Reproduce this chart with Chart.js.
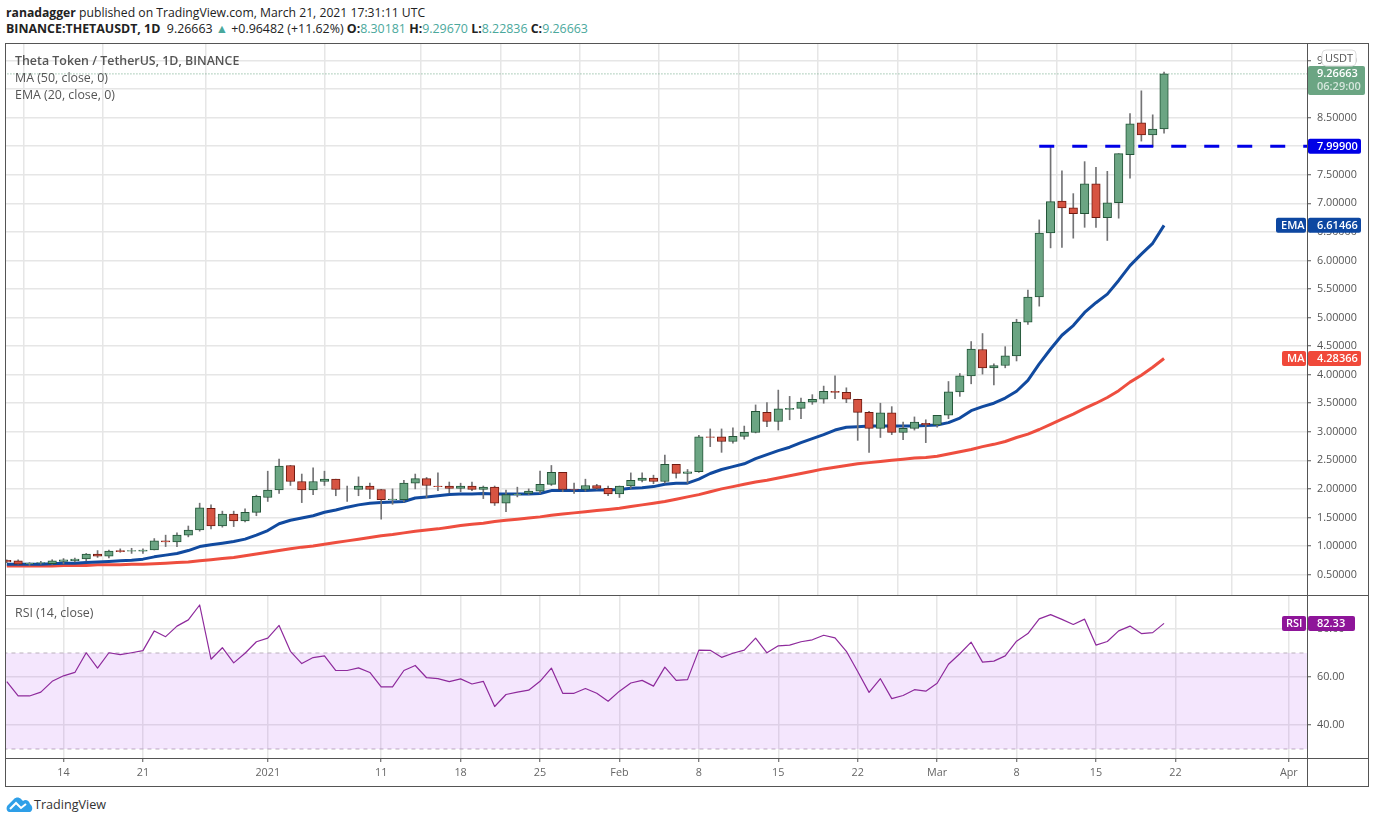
<!DOCTYPE html>
<html>
<head>
<meta charset="utf-8">
<title>THETAUSDT</title>
<script src="https://cdn.jsdelivr.net/npm/chart.js@4/dist/chart.umd.min.js"></script>
<style>
  html, body { margin: 0; padding: 0; background: #fff; width: 1376px; height: 823px; overflow: hidden; }
  body { font-family: "Open Sans", sans-serif; color: #333; position: relative; }
  .abs { position: absolute; white-space: nowrap; }
  .frame { left: 5px; top: 43px; width: 1362px; height: 742px; border: 1px solid #555; }
  .sep { background: #555; }
  canvas { position: absolute; }
  .head { left: 6px; line-height: 16px; color: #222; }
  .pane { left: 15px; font-size: 12.4px; line-height: 16px; color: #555; }
  .teal { color: #4aa89c; }
</style>
</head>
<body>
<div class="abs frame"></div>
<div class="abs sep" style="left:1307px;top:44px;width:1px;height:742px"></div>
<div class="abs sep" style="left:6px;top:595px;width:1362px;height:1px"></div>
<div class="abs sep" style="left:6px;top:758px;width:1362px;height:1px"></div>

<canvas id="price" width="1362" height="551" style="left:6px;top:44px"></canvas>
<canvas id="rsi" width="1362" height="190" style="left:6px;top:596px"></canvas>

<div class="abs head" style="top:5px;font-size:12.2px"><b>ranadagger</b> published on TradingView.com, March 21, 2021 17:31:11 UTC</div>
<div class="abs head" style="top:21px;font-size:12.4px"><b>BINANCE:THETAUSDT, 1D</b>&nbsp; 9.26663 <span class="teal">▲</span> +0.96482 (+11.62%) <b>O:</b><span class="teal">8.30181</span> <b>H:</b><span class="teal">9.29670</span> <b>L:</b><span class="teal">8.22836</span> <b>C:</b><span class="teal">9.26663</span></div>
<div class="abs pane" style="top:53px;font-weight:600">Theta Token / TetherUS, 1D, BINANCE</div>
<div class="abs pane" style="top:70px">MA (50, close, 0)</div>
<div class="abs pane" style="top:87px">EMA (20, close, 0)</div>
<div class="abs pane" style="top:605px">RSI (14, close)</div>

<svg class="abs" style="left:6px;top:796px" width="27" height="17" viewBox="0 0 27 17">
  <path d="M3 16 C0 15 0 11 2 9 L8 3 C10 1 13 1 15 3 L17 5 C19 3 23 4 24 8 C27 10 27 15 24 16 Z" fill="#2e9fe8"/>
  <path d="M4 13 L10 7 L15 12 L20 8" fill="none" stroke="#fff" stroke-width="2"/>
</svg>
<div class="abs" style="left:34px;top:796px;font-size:12.6px;line-height:18px;color:#333">TradingView</div>

<script>
// first candle is 5 days before Dec 14, one row = 10 days
const firstDay = -5;

const opens = [
    0.75, 0.74, 0.69, 0.70, 0.69, 0.73, 0.745, 0.775, 0.86, 0.82,
    0.92, 0.91, 0.91, 0.93, 1.09, 1.07, 1.19, 1.28, 1.66, 1.35,
    1.56, 1.44, 1.59, 1.85, 1.98, 2.41, 2.13, 1.98, 2.13, 2.17,
    1.99, 1.99, 2.05, 1.99, 1.81, 1.81, 2.10, 2.18, 2.05, 2.05,
    2.01, 2.05, 1.99, 2.03, 1.75, 1.90, 1.92, 1.96, 2.08, 2.29,
    1.99, 1.99, 2.06, 2.01, 1.91, 2.05, 2.15, 2.19, 2.13, 2.43,
    2.27, 2.30, 2.91, 2.91, 2.83, 2.92, 2.99, 3.34, 3.18, 3.39,
    3.41, 3.52, 3.57, 3.71, 3.69, 3.57, 3.34, 3.06, 3.33, 2.99,
    3.06, 3.15, 3.12, 3.29, 3.70, 3.98, 4.44, 4.12, 4.16, 4.33,
    4.92, 5.36, 6.48, 7.04, 6.92, 6.82, 7.34, 6.75, 7.01, 7.85,
    8.41, 8.20, 8.30181
];
const highs = [
    0.76, 0.76, 0.71, 0.73, 0.76, 0.78, 0.79, 0.87, 0.92, 0.93,
    0.95, 0.96, 0.95, 1.13, 1.19, 1.23, 1.35, 1.75, 1.72, 1.61,
    1.61, 1.65, 1.89, 2.31, 2.52, 2.41, 2.26, 2.37, 2.31, 2.17,
    2.05, 2.21, 2.10, 1.99, 2.00, 2.15, 2.26, 2.20, 2.28, 2.12,
    2.10, 2.12, 2.05, 2.05, 1.98, 2.03, 2.00, 2.31, 2.41, 2.29,
    2.10, 2.17, 2.08, 2.05, 2.05, 2.28, 2.28, 2.24, 2.59, 2.43,
    2.34, 2.94, 3.05, 3.05, 3.07, 3.10, 3.47, 3.51, 3.73, 3.62,
    3.59, 3.65, 3.80, 3.98, 3.77, 3.57, 3.36, 3.50, 3.44, 3.17,
    3.26, 3.21, 3.29, 3.88, 4.02, 4.58, 4.72, 4.19, 4.49, 4.97,
    5.48, 6.71, 7.99, 7.57, 7.17, 7.73, 7.63, 7.56, 7.87, 8.57,
    8.97, 8.55, 9.2967
];
const lows = [
    0.71, 0.68, 0.66, 0.68, 0.68, 0.69, 0.72, 0.74, 0.80, 0.79,
    0.89, 0.87, 0.87, 0.93, 0.99, 0.99, 1.16, 1.26, 1.30, 1.33,
    1.34, 1.42, 1.53, 1.78, 1.92, 2.06, 1.76, 1.90, 2.06, 1.88,
    1.78, 1.88, 1.83, 1.47, 1.73, 1.77, 2.00, 1.85, 1.97, 1.93,
    1.95, 1.97, 1.83, 1.71, 1.60, 1.86, 1.90, 1.92, 2.06, 1.95,
    1.92, 1.96, 1.99, 1.88, 1.85, 2.01, 2.12, 2.09, 2.10, 2.19,
    2.10, 2.29, 2.74, 2.64, 2.80, 2.87, 2.98, 3.09, 3.03, 3.21,
    3.23, 3.48, 3.50, 3.58, 3.51, 2.85, 2.64, 2.90, 2.95, 2.86,
    3.03, 2.81, 3.08, 3.23, 3.62, 3.84, 4.01, 3.82, 4.12, 4.24,
    4.88, 5.20, 6.22, 6.23, 6.39, 6.58, 6.58, 6.35, 6.74, 7.44,
    8.09, 7.99, 8.22836
];
const closes = [
    0.72, 0.68, 0.70, 0.71, 0.74, 0.76, 0.77, 0.86, 0.82, 0.91,
    0.90, 0.92, 0.93, 1.09, 1.07, 1.19, 1.28, 1.67, 1.35, 1.56,
    1.44, 1.59, 1.87, 1.98, 2.40, 2.13, 1.98, 2.13, 2.17, 1.99,
    1.99, 2.05, 1.99, 1.81, 1.82, 2.10, 2.18, 2.06, 2.04, 2.01,
    2.05, 1.99, 2.03, 1.75, 1.90, 1.91, 1.96, 2.08, 2.29, 1.99,
    1.98, 2.06, 2.01, 1.91, 2.05, 2.15, 2.19, 2.13, 2.43, 2.27,
    2.30, 2.91, 2.90, 2.83, 2.92, 2.99, 3.36, 3.18, 3.40, 3.41,
    3.52, 3.57, 3.71, 3.69, 3.57, 3.34, 3.06, 3.33, 2.99, 3.06,
    3.17, 3.12, 3.29, 3.70, 3.98, 4.45, 4.12, 4.16, 4.33, 4.92,
    5.36, 6.48, 7.03, 6.92, 6.82, 7.34, 6.75, 7.01, 7.87, 8.39,
    8.20, 8.30, 9.26663
];
const ema20 = [
    0.68, 0.68, 0.68, 0.68, 0.69, 0.70, 0.70, 0.71, 0.72, 0.73,
    0.74, 0.75, 0.77, 0.81, 0.84, 0.87, 0.92, 0.99, 1.02, 1.05,
    1.08, 1.12, 1.19, 1.27, 1.39, 1.45, 1.49, 1.53, 1.59, 1.63,
    1.68, 1.72, 1.75, 1.76, 1.77, 1.78, 1.84, 1.86, 1.88, 1.90,
    1.91, 1.91, 1.92, 1.91, 1.91, 1.91, 1.91, 1.92, 1.97, 1.97,
    1.97, 1.97, 1.98, 1.98, 1.99, 2.01, 2.02, 2.04, 2.08, 2.10,
    2.10, 2.17, 2.27, 2.34, 2.39, 2.44, 2.53, 2.60, 2.67, 2.73,
    2.81, 2.88, 2.95, 3.03, 3.08, 3.09, 3.10, 3.10, 3.10, 3.10,
    3.10, 3.11, 3.12, 3.16, 3.24, 3.37, 3.44, 3.50, 3.59, 3.71,
    3.90, 4.19, 4.45, 4.69, 4.86, 5.09, 5.26, 5.41, 5.65, 5.91,
    6.11, 6.30, 6.61466
];
const ma50 = [
    0.65, 0.65, 0.65, 0.65, 0.65, 0.66, 0.66, 0.66, 0.67, 0.67,
    0.67, 0.68, 0.68, 0.69, 0.70, 0.71, 0.72, 0.74, 0.76, 0.78,
    0.80, 0.83, 0.86, 0.89, 0.92, 0.95, 0.98, 1.00, 1.03, 1.06,
    1.09, 1.12, 1.15, 1.18, 1.20, 1.23, 1.26, 1.28, 1.30, 1.33,
    1.36, 1.38, 1.40, 1.43, 1.45, 1.47, 1.49, 1.51, 1.54, 1.56,
    1.58, 1.60, 1.62, 1.64, 1.66, 1.69, 1.72, 1.75, 1.78, 1.82,
    1.86, 1.90, 1.95, 2.00, 2.04, 2.08, 2.12, 2.15, 2.19, 2.23,
    2.27, 2.31, 2.35, 2.38, 2.41, 2.44, 2.46, 2.48, 2.50, 2.52,
    2.54, 2.55, 2.57, 2.61, 2.65, 2.69, 2.74, 2.78, 2.83, 2.90,
    2.96, 3.04, 3.13, 3.22, 3.31, 3.41, 3.50, 3.60, 3.72, 3.87,
    3.99, 4.13, 4.28366
];
const rsiValues = [
    58.1, 52.1, 52.1, 53.7, 58.2, 60.5, 61.9, 70.1, 63.7, 70.1,
    69.3, 70.1, 71.0, 79.2, 76.8, 81.2, 83.8, 90.0, 67.4, 72.2,
    65.9, 69.9, 74.7, 76.2, 81.5, 70.7, 65.6, 68.1, 68.8, 62.7,
    62.7, 63.8, 61.9, 55.9, 55.9, 62.7, 64.8, 59.7, 59.3, 58.1,
    59.2, 57.1, 58.2, 47.7, 52.7, 53.7, 54.5, 58.2, 63.7, 53.2,
    53.2, 55.2, 53.2, 49.9, 54.1, 57.5, 58.6, 56.2, 64.1, 58.6,
    58.9, 71.2, 71.1, 68.2, 69.9, 71.2, 76.2, 70.1, 73.0, 73.3,
    74.7, 75.5, 77.4, 76.3, 70.7, 62.3, 53.6, 59.3, 51.0, 52.3,
    54.7, 54.1, 57.4, 65.3, 69.7, 74.5, 66.2, 66.6, 68.8, 74.9,
    78.1, 84.2, 86.0, 84.0, 81.9, 84.1, 73.3, 74.8, 79.2, 81.2,
    78.1, 78.5, 82.33
];

const tickDays = [0, 7, 18, 28, 35, 42, 49, 56, 63, 70, 77, 84, 91, 98, 108];
const tickLabels = ['14', '21', '2021', '11', '18', '25', 'Feb', '8', '15', '22', 'Mar', '8', '15', '22', 'Apr'];
const priceTicks = [0.5, 1, 1.5, 2, 2.5, 3, 3.5, 4, 4.5, 5, 5.5, 6, 6.5, 7, 7.5, 8, 8.5, 9, 9.5];
const rsiTicks = [40, 60, 80];

const levelDays = [86, 110];
const levelPrice = 7.999;
const lastPriceDays = [-6, 110];
const lastPrice = 9.26663;
const bandTop = 70;
const bandBottom = 30;

const xMin = -5.07, xMax = 109.6;
const upFill = '#6ba583', upEdge = '#225437';
const downFill = '#d75442', downEdge = '#6f1a10';
const gridColor = '#e6e6e6';
const axisFont = { family: 'Open Sans', size: 10.8 };

const series = values => values.map((v, i) => ({ x: firstDay + i, y: v }));
const flat = (days, v) => days.map(d => ({ x: d, y: v }));

function xAxis(showTicks) {
    return {
        type: 'linear',
        offset: false,
        min: xMin,
        max: xMax,
        border: { display: false },
        grid: { color: gridColor, lineWidth: 1.5, drawTicks: showTicks, tickLength: 4, tickColor: '#555', tickWidth: 1 },
        ticks: {
            display: showTicks,
            autoSkip: false,
            maxRotation: 0,
            color: '#666',
            padding: 4,
            font: axisFont,
            callback: (v, i) => tickLabels[i]
        },
        afterBuildTicks: s => { s.ticks = tickDays.map(d => ({ value: d })); },
        afterFit: s => {
            s.height = showTicks ? 28 : 0;
            s.paddingLeft = 0;
            s.paddingRight = 0;
        }
    };
}

function yAxis(min, max, ticks, digits) {
    return {
        position: 'right',
        min: min,
        max: max,
        border: { display: false },
        grid: { color: gridColor, lineWidth: 1.5, tickLength: 4, tickColor: '#555', tickWidth: 1 },
        ticks: { color: '#555', padding: 6, font: axisFont, autoSkip: false, callback: v => v.toFixed(digits) },
        afterBuildTicks: s => { s.ticks = ticks.map(v => ({ value: v })); },
        afterFit: s => {
            s.width = 61;
            s.paddingTop = 0;
            s.paddingBottom = 0;
        }
    };
}

function tag(ctx, x, y, w, h, fill, lines) {
    ctx.fillStyle = fill;
    ctx.beginPath();
    ctx.roundRect(x, y, w, h, 2);
    ctx.fill();
    ctx.textBaseline = 'middle';
    ctx.textAlign = 'left';
    lines.forEach(l => {
        ctx.fillStyle = l.color || '#fff';
        ctx.font = '600 11px "Open Sans"';
        ctx.fillText(l.text, x + (l.dx || 9), y + l.dy);
    });
}

const priceTags = {
    id: 'priceTags',
    afterDraw(chart) {
        const ctx = chart.ctx, sy = chart.scales.y, left = sy.left;
        const pill = (v, fill, text, label) => {
            const y = sy.getPixelForValue(v);
            tag(ctx, left + 1, y - 7.5, 53, 15, fill, [{ text: text, dy: 8 }]);
            if (label) tag(ctx, left - 31 + (label === 'MA' ? 6 : 0), y - 7.5, label === 'MA' ? 24 : 30, 15, fill, [{ text: label, dy: 8, dx: 5 }]);
        };
        ctx.save();
        const yLast = sy.getPixelForValue(lastPrice);
        tag(ctx, left + 1, yLast - 8, 57, 29, upFill, [
            { text: lastPrice.toFixed(5), dy: 8 },
            { text: '06:29:00', dy: 21, color: '#d5e6dc' }
        ]);
        pill(levelPrice, '#0000e6', '7.99900');
        pill(ema20[ema20.length - 1], '#0d47a1', ema20[ema20.length - 1].toFixed(5), 'EMA');
        pill(ma50[ma50.length - 1], '#f0493a', ma50[ma50.length - 1].toFixed(5), 'MA');
        // unit button on top of the hidden 9.50000 tick
        ctx.fillStyle = '#fff';
        ctx.strokeStyle = '#ddd';
        ctx.beginPath();
        ctx.roundRect(left + 15, 6, 34, 16, 4);
        ctx.fill();
        ctx.stroke();
        ctx.fillStyle = '#555';
        ctx.font = '11px "Open Sans"';
        ctx.textAlign = 'left';
        ctx.textBaseline = 'middle';
        ctx.fillText('USDT', left + 18, 14.5);
        ctx.restore();
    }
};

const rsiTags = {
    id: 'rsiTags',
    afterDraw(chart) {
        const ctx = chart.ctx, sy = chart.scales.y, left = sy.left;
        const last = rsiValues[rsiValues.length - 1];
        const y = sy.getPixelForValue(last);
        ctx.save();
        tag(ctx, left + 1, y - 7.5, 47, 15, '#8e1599', [{ text: last.toFixed(2), dy: 8, dx: 9 }]);
        tag(ctx, left - 25, y - 7.5, 24, 15, '#8e1599', [{ text: 'RSI', dy: 8, dx: 4 }]);
        ctx.restore();
    }
};

const lineStyle = { type: 'line', pointRadius: 0, tension: 0, borderJoinStyle: 'round' };

new Chart(document.getElementById('price'), {
    type: 'bar',
    data: {
        datasets: [
            { ...lineStyle, order: 0, data: flat(levelDays, levelPrice), borderColor: '#0000e6', borderWidth: 3, borderDash: [15, 18] },
            {
                order: 1,
                data: series(opens.map((o, i) => [o, closes[i]])),
                barThickness: 8.5,
                borderWidth: 1,
                borderSkipped: false,
                backgroundColor: c => closes[c.dataIndex] >= opens[c.dataIndex] ? upFill : downFill,
                borderColor: c => closes[c.dataIndex] >= opens[c.dataIndex] ? upEdge : downEdge
            },
            {
                order: 2,
                data: series(lows.map((l, i) => [l, highs[i]])),
                barThickness: 1,
                borderWidth: 0,
                backgroundColor: '#737375'
            },
            { ...lineStyle, order: 3, data: series(ema20), borderColor: '#114a9f', borderWidth: 3 },
            { ...lineStyle, order: 4, data: series(ma50), borderColor: '#ee4e3f', borderWidth: 3 },
            { ...lineStyle, order: 5, data: flat(lastPriceDays, lastPrice), borderColor: '#6ba583', borderWidth: 1, borderDash: [1, 2] }
        ]
    },
    options: {
        responsive: false,
        animation: false,
        events: [],
        grouped: false,
        layout: { padding: 0 },
        plugins: { legend: { display: false }, tooltip: { enabled: false } },
        scales: { x: xAxis(false), y: yAxis(0.142, 9.79, priceTicks, 5) }
    },
    plugins: [priceTags]
});

new Chart(document.getElementById('rsi'), {
    type: 'line',
    data: {
        datasets: [
            { ...lineStyle, order: 0, data: series(rsiValues), borderColor: '#8e2a9c', borderWidth: 1.2 },
            {
                ...lineStyle, order: 1,
                data: flat(lastPriceDays, bandTop),
                borderColor: '#b9b0bb', borderWidth: 1, borderDash: [4, 4],
                fill: { target: 2 },
                backgroundColor: 'rgba(170, 60, 240, 0.13)'
            },
            { ...lineStyle, order: 2, data: flat(lastPriceDays, bandBottom), borderColor: '#b9b0bb', borderWidth: 1, borderDash: [4, 4] }
        ]
    },
    options: {
        responsive: false,
        animation: false,
        events: [],
        layout: { padding: 0 },
        plugins: { legend: { display: false }, tooltip: { enabled: false } },
        scales: { x: xAxis(true), y: yAxis(26.25, 93.75, rsiTicks, 2) }
    },
    plugins: [rsiTags]
});
</script>
</body>
</html>
